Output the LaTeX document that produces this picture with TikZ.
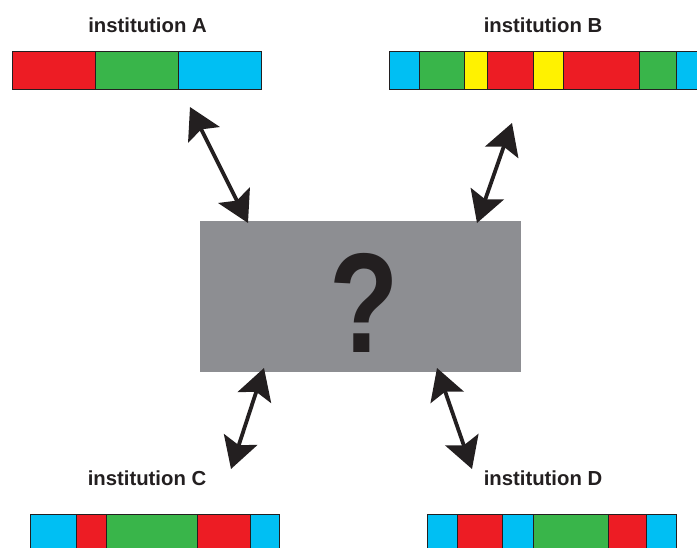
\documentclass[tikz,border=0pt]{standalone}
\usepackage{fontspec}
\setmainfont{Liberation Sans}
\usetikzlibrary{arrows.meta}
\definecolor{cred}{HTML}{ED1C24}
\definecolor{cgreen}{HTML}{39B54A}
\definecolor{ccyan}{HTML}{00BFF3}
\definecolor{cyel}{HTML}{FFF200}
\definecolor{cgray}{HTML}{8D8E92}
\definecolor{cedge}{HTML}{231F20}
\tikzset{
  seg/.style={draw=cedge, line width=0.9pt},
  lbl/.style={font=\bfseries\fontsize{20.3}{22}\selectfont, text=cedge, anchor=base, inner sep=0pt},
  dbl/.style={line width=3.8pt, draw=cedge, {Stealth[length=31pt,width=35pt,inset=6pt]}-{Stealth[length=31pt,width=35pt,inset=6pt]}},
}
\newcommand{\segbox}[5]{\filldraw[seg, fill=#5] (#1,#3) rectangle (#2,#4);}
\begin{document}
\begin{tikzpicture}[x=1pt,y=-1pt]
\useasboundingbox (0,0) rectangle (697,548);
\clip (0,0) rectangle (697,548);
% central box
\node[fill=cgray, minimum width=321pt, minimum height=151pt, inner sep=0pt, anchor=north west] (q) at (200,221) {};
\node[font=\bfseries\fontsize{142}{144}\selectfont, text=cedge, inner sep=0pt, anchor=base, xscale=0.8] (qm) at (364.5,353) {?};
% labels
\node[lbl] (la) at (147.5,33) {institution A};
\node[lbl] (lb) at (543,33) {institution B};
\node[lbl] (lc) at (147,485) {institution C};
\node[lbl] (ld) at (543,485) {institution D};
% bar A
\segbox{12}{95}{51}{89}{cred}
\segbox{95}{178}{51}{89}{cgreen}
\segbox{178}{261}{51}{89}{ccyan}
% bar B
\segbox{389}{419}{51}{89}{ccyan}
\segbox{419}{464}{51}{89}{cgreen}
\segbox{464}{487}{51}{89}{cyel}
\segbox{487}{533}{51}{89}{cred}
\segbox{533}{563}{51}{89}{cyel}
\segbox{563}{639}{51}{89}{cred}
\segbox{639}{676}{51}{89}{cgreen}
\segbox{676}{710}{51}{89}{ccyan}
% bar C
\segbox{30.5}{76}{514.5}{560}{ccyan}
\segbox{76}{106}{514.5}{560}{cred}
\segbox{106}{197}{514.5}{560}{cgreen}
\segbox{197}{250}{514.5}{560}{cred}
\segbox{250}{279.5}{514.5}{560}{ccyan}
% bar D
\segbox{427}{457}{514.5}{560}{ccyan}
\segbox{457}{502}{514.5}{560}{cred}
\segbox{502}{533}{514.5}{560}{ccyan}
\segbox{533}{608}{514.5}{560}{cgreen}
\segbox{608}{646}{514.5}{560}{cred}
\segbox{646}{676}{514.5}{560}{ccyan}
% arrow end points
\coordinate (a1) at (190,107);
\coordinate (a2) at (248,223);
\coordinate (b1) at (512,123);
\coordinate (b2) at (477,223);
\coordinate (c1) at (264,368);
\coordinate (c2) at (231,469);
\coordinate (d1) at (437,368);
\coordinate (d2) at (472,469);
\draw[dbl] (a1) -- (a2);
\draw[dbl] (b1) -- (b2);
\draw[dbl] (c1) -- (c2);
\draw[dbl] (d1) -- (d2);
\end{tikzpicture}
\end{document}
